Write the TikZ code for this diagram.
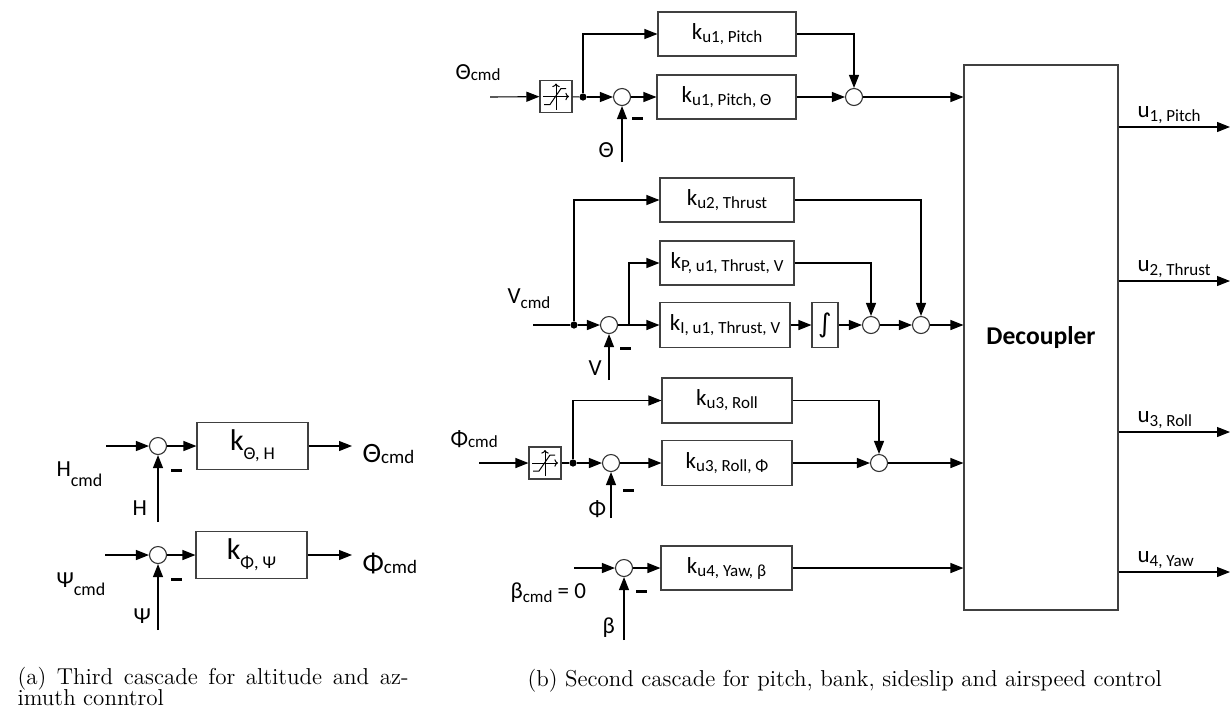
\documentclass[tikz,border=0pt]{standalone}
\usepackage{fontspec}
\usepackage{tikz}
\usetikzlibrary{arrows.meta,positioning}
\newfontfamily\diag{Carlito}
\newfontfamily\symf{DejaVu Sans}
\newcommand{\subsize}{8.5}
\newcommand{\idx}[2][1.5pt]{\raisebox{-#1}{\fontsize{\subsize}{\subsize}\selectfont #2}}

\begin{document}
\begin{tikzpicture}[
  x=0.5pt, y=-0.5pt,
  font=\diag\fontsize{11.5}{13}\selectfont,
  line width=0.55pt,
  gain/.style={draw=black!75, minimum height=22pt, inner sep=0pt},
  kbig/.style={font=\diag\fontsize{15}{17}\selectfont\def\subsize{9}},
  lbig/.style={font=\diag\fontsize{14}{16}\selectfont\def\subsize{9.5}},
  lmid/.style={font=\diag\fontsize{11.5}{13}\selectfont\def\subsize{9}},
  sum/.style={circle, draw=black!80, fill=white, minimum size=8.5pt, inner sep=0pt},
  sat/.style={draw=black!75, minimum size=16pt, inner sep=0pt},
  intbox/.style={draw=black!75, minimum width=13pt, minimum height=22.5pt, inner sep=0pt},
  dot/.style={circle, fill, minimum size=3.6pt, inner sep=0pt},
  minus/.style={fill, minimum width=5.5pt, minimum height=1.6pt, inner sep=0pt},
  sig/.style={inner sep=0pt, anchor=base west},
  capt/.style={inner sep=0pt, anchor=base west, font=\rmfamily\fontsize{11.5}{12}\selectfont},
  arrow/.style={-{Triangle[length=6.5pt,width=5pt]}}
]
\useasboundingbox (0,0) rectangle (1230,709);

\node[sum] (sH) at (158,446) {};
\node[gain, kbig, minimum width=55.5pt, minimum height=23.5pt] (kH) at (252.5,446) {k\idx[4.5pt]{Θ, H}};
\node[sum] (sP) at (158,555) {};
\node[gain, kbig, minimum width=55.5pt, minimum height=23.5pt] (kP) at (251.5,555) {k\idx[4.5pt]{Φ, Ψ}};
\coordinate (inH) at (106,446);
\coordinate (inP) at (105,555);
\coordinate (outH) at (352,446);
\coordinate (outP) at (352,555);
\coordinate (fbH) at (158,522);
\coordinate (fbP) at (158,630);
\node[minus, below right=8pt and 3pt of sH] (mH) {};
\node[minus, below right=8pt and 3pt of sP] (mP) {};
\node[sig, lmid] (lHcmd) at (56,476) {H\idx[5pt]{cmd}};
\node[sig, lmid] (lH) at (132,515) {H};
\node[sig, lbig] (lTcmd) at (362,462) {Θ\idx[0.5pt]{cmd}};
\node[sig, lmid] (lPcmd) at (56,587) {Ψ\idx[4pt]{cmd}};
\node[sig, lmid] (lP) at (133,623) {Ψ};
\node[sig, lbig] (lFcmd) at (362,572) {Φ\idx[0.5pt]{cmd}};

\draw[arrow] (inH) -- (sH);
\draw[arrow] (sH) -- (kH);
\draw[arrow] (kH) -- (outH);
\draw[arrow] (fbH) -- (sH);
\draw[arrow] (inP) -- (sP);
\draw[arrow] (sP) -- (kP);
\draw[arrow] (kP) -- (outP);
\draw[arrow] (fbP) -- (sP);

\node[draw=black!75, minimum width=77pt, minimum height=272.5pt, inner sep=0pt, font=\diag\bfseries\fontsize{12.8}{14}\selectfont] (dec) at (1041,337.5) {Decoupler};

\node[sat] (satT) at (556,96.5) {};
\node[dot] (dotT) at (583,97) {};
\node[sum] (sT) at (622,97) {};
\node[gain, minimum width=69pt] (kT1) at (727,34) {k\idx{u1, Pitch}};
\node[gain, minimum width=69.5pt] (kT2) at (726.5,97) {k\idx{u1, Pitch, Θ}};
\node[sum] (sTo) at (854,97) {};
\coordinate (inT) at (490,97);
\coordinate (fbT) at (622,162);
\node[minus, below right=6.5pt and 1.5pt of sT] (mT) {};
\node[sig] (lTc) at (455,79) {Θ\idx[0.5pt]{cmd}};
\node[sig] (lT) at (598,157) {Θ};

\draw[arrow] (inT) -- (satT);
\draw (satT) -- (dotT);
\draw[arrow] (dotT) -- (sT);
\draw[arrow] (dotT) |- (kT1);
\draw[arrow] (sT) -- (kT2);
\draw[arrow] (kT1) -| (sTo);
\draw[arrow] (kT2) -- (sTo);
\draw[arrow] (sTo) -- (sTo -| dec.west);
\draw[arrow] (fbT) -- (sT);

\node[dot] (dotV) at (574,325) {};
\node[sum] (sV) at (609,325) {};
\coordinate (brV) at (629,325);
\node[gain, minimum width=67pt] (kU2) at (727,200) {k\idx{u2, Thrust}};
\node[gain, minimum width=67pt] (kPV) at (727,263) {k\idx{P, u1, Thrust, V}};
\node[gain, minimum width=65pt, minimum height=22.5pt] (kIV) at (725,325) {k\idx{I, u1, Thrust, V}};
\node[intbox, font=\symf\fontsize{13}{13}\selectfont] (intV) at (825,325) {∫};
\node[sum] (sV1) at (871,325) {};
\node[sum] (sV2) at (921,325) {};
\coordinate (inV) at (533,325);
\coordinate (fbV) at (609,380);
\node[minus, below right=7.5pt and 2pt of sV] (mV) {};
\node[sig] (lVc) at (507,303) {V\idx[2.5pt]{cmd}};
\node[sig] (lV) at (588,375) {V};

\draw (inV) -- (dotV);
\draw[arrow] (dotV) -- (sV);
\draw[arrow] (dotV) |- (kU2);
\draw (sV) -- (brV);
\draw[arrow] (brV) |- (kPV);
\draw[arrow] (brV) -- (kIV);
\draw[arrow] (kIV) -- (intV);
\draw[arrow] (intV) -- (sV1);
\draw[arrow] (kPV) -| (sV1);
\draw[arrow] (sV1) -- (sV2);
\draw[arrow] (kU2) -| (sV2);
\draw[arrow] (sV2) -- (sV2 -| dec.west);
\draw[arrow] (fbV) -- (sV);

\node[sat] (satF) at (545,463) {};
\node[dot] (dotF) at (573,463) {};
\node[sum] (sF) at (611,463) {};
\node[gain, minimum width=65pt, minimum height=22.5pt] (kR1) at (727,400.5) {k\idx{u3, Roll}};
\node[gain, minimum width=65pt, minimum height=22.5pt] (kR2) at (727,463) {k\idx{u3, Roll, Φ}};
\node[sum] (sFo) at (879,463) {};
\coordinate (inF) at (479,463);
\coordinate (fbF) at (611,518);
\node[minus, below right=9.5pt and 2.5pt of sF] (mF) {};
\node[sig] (lFc) at (450,446) {Φ\idx[0.5pt]{cmd}};
\node[sig] (lF) at (588,516) {Φ};

\draw[arrow] (inF) -- (satF);
\draw (satF) -- (dotF);
\draw[arrow] (dotF) -- (sF);
\draw[arrow] (dotF) |- (kR1);
\draw[arrow] (sF) -- (kR2);
\draw[arrow] (kR1) -| (sFo);
\draw[arrow] (kR2) -- (sFo);
\draw[arrow] (sFo) -- (sFo -| dec.west);
\draw[arrow] (fbF) -- (sF);

\node[sum] (sB) at (624,568) {};
\node[gain, minimum width=65.5pt] (kY) at (726.5,568) {k\idx{u4, Yaw, β}};
\coordinate (inB) at (574,568);
\coordinate (fbB) at (624,640);
\node[minus, below right=7.5pt and 2.5pt of sB] (mB) {};
\node[sig] (lBc) at (510,598) {β\idx[2pt]{cmd} = 0};
\node[sig] (lB) at (602,633) {β};

\draw[arrow] (inB) -- (sB);
\draw[arrow] (sB) -- (kY);
\draw[arrow] (kY) -- (kY -| dec.west);
\draw[arrow] (fbB) -- (sB);

\foreach \s in {satT,satF}{
  \draw[line width=0.5pt,-{To[length=1.8pt]}] ([shift={(0,13)}]\s.center) -- ([shift={(0,-13)}]\s.center);
  \draw[line width=0.5pt,-{To[length=1.8pt]}] ([shift={(-13,0)}]\s.center) -- ([shift={(13,0)}]\s.center);
  \draw[line width=0.5pt] ([shift={(-12,8)}]\s.center) -- ++(6,0) -- ++(11,-16) -- ++(5,0);
}

\coordinate (u1) at (1230,127);
\coordinate (u2) at (1230,281);
\coordinate (u3) at (1230,432);
\coordinate (u4) at (1230,572);
\draw[arrow] (dec.east |- u1) -- (u1);
\draw[arrow] (dec.east |- u2) -- (u2);
\draw[arrow] (dec.east |- u3) -- (u3);
\draw[arrow] (dec.east |- u4) -- (u4);
\node[sig] (lu1) at (1137,117) {u\idx[2pt]{1, Pitch}};
\node[sig] (lu2) at (1137,271) {u\idx[2pt]{2, Thrust}};
\node[sig] (lu3) at (1137,422) {u\idx[2pt]{3, Roll}};
\node[sig] (lu4) at (1137,562) {u\idx[2pt]{4, Yaw}};

\node[capt, align=left] (capA) at (17,705) {\makebox[195.5pt][s]{(a) Third cascade for altitude and az-}\\[-1.5pt]imuth conntrol};
\node[capt] (capB) at (527,686) {(b) Second cascade for pitch, bank, sideslip and airspeed control};
\end{tikzpicture}
\end{document}
